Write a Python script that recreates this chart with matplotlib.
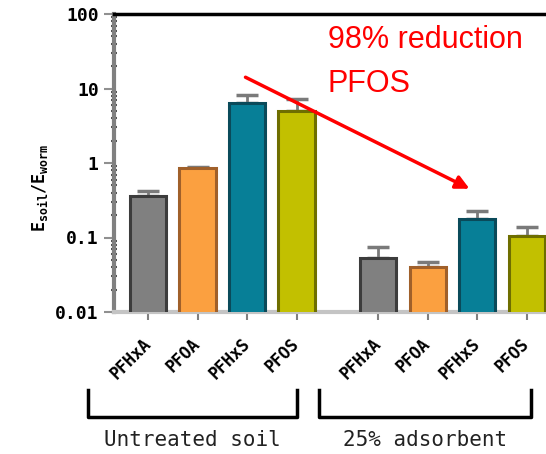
import numpy as np
import matplotlib
matplotlib.use("Agg")
import matplotlib.pyplot as plt
from matplotlib.lines import Line2D

# ── Data ──────────────────────────────────────────────────────────────────────
compounds   = ["PFHxA", "PFOA", "PFHxS", "PFOS"]
untreated   = [0.36, 0.86, 6.4, 5.0]
untreated_e = [0.06, 0.03, 1.8, 2.2]
adsorbent   = [0.053, 0.040, 0.177, 0.105]
adsorbent_e = [0.021, 0.007, 0.050, 0.033]
groups      = ["Untreated soil", "25% adsorbent"]

fills = ["#808080", "#fba040", "#077f97", "#c2c000"]
edges = ["#3c3c3c", "#a0602a", "#0a4a5a", "#6e6e00"]

plt.rcParams["font.family"] = ["DejaVu Sans Mono"]

W, H = 546, 454
fig = plt.figure(figsize=(W / 100, H / 100), dpi=100)
ax = fig.add_axes([114 / W, 1 - 312 / H, 1 - 114 / W, (312 - 14) / H])

x1 = np.arange(4)
x2 = np.arange(4) + 4.65
xs = np.concatenate([x1, x2])
vals = untreated + adsorbent
errs = untreated_e + adsorbent_e

ax.bar(xs, vals, width=0.73, color=fills * 2, edgecolor=edges * 2,
       linewidth=2.2, zorder=3)
ax.errorbar(xs, vals, yerr=[np.zeros(8), errs], fmt="none", ecolor="#7a7a7a",
            elinewidth=2, capsize=8, capthick=2.5, zorder=2)

ax.set_yscale("log")
ax.set_ylim(0.01, 100)
ax.set_xlim(-0.687, 8.04)
ax.set_yticks([0.01, 0.1, 1, 10, 100])
ax.set_yticklabels(["0.01", "0.1", "1", "10", "100"], fontsize=13,
                   fontweight="bold")
ax.tick_params(axis="y", which="major", length=7, width=1.5, color="#909090",
               pad=4)
ax.tick_params(axis="y", which="minor", length=4, width=1.5, color="#505050",
               direction="inout")

ax.set_xticks(xs)
ax.set_xticklabels(compounds * 2, rotation=45, ha="right", va="center",
                   rotation_mode="anchor", fontsize=12, fontweight="bold")
ax.tick_params(axis="x", length=6, width=1.5, color="#808080", pad=15)

ax.spines["right"].set_visible(False)
ax.spines["left"].set_color("#808080")
ax.spines["left"].set_linewidth(3)
ax.spines["bottom"].set_color("#c4c4c4")
ax.spines["bottom"].set_linewidth(3)
ax.spines["top"].set_color("black")
ax.spines["top"].set_linewidth(2.5)

ax.set_ylabel(r"$\mathregular{E_{soil}/E_{worm}}$", fontsize=12,
              fontweight="bold")
ax.yaxis.set_label_coords(-0.148, 0.416)

# brackets and group labels
def bracket(x0, x1_, y0=390, y1=417):
    fx = [x0 / W, x0 / W, x1_ / W, x1_ / W]
    fy = [1 - y0 / H, 1 - y1 / H, 1 - y1 / H, 1 - y0 / H]
    fig.add_artist(Line2D(fx, fy, color="black", lw=2.5,
                          transform=fig.transFigure))

bracket(88, 297)
bracket(319, 531)
fig.text(192 / W, 1 - 440 / H, groups[0], ha="center", va="center",
         fontsize=15, color="#222222")
fig.text(425 / W, 1 - 440 / H, groups[1], ha="center", va="center",
         fontsize=15, color="#222222")

# annotation
red_font = ["Liberation Sans"]
fig.text(328 / W, 1 - 48 / H, "98% reduction", color="red", fontsize=22,
         family=red_font, va="baseline", ha="left", fontstretch="condensed")
fig.text(328 / W, 1 - 92 / H, "PFOS", color="red", fontsize=22,
         family=red_font, va="baseline", ha="left", fontstretch="condensed")
ax.annotate("", xy=(472, H - 190), xycoords="figure pixels",
            xytext=(243, H - 76), textcoords="figure pixels",
            arrowprops=dict(arrowstyle="-|>", color="red", lw=2.5,
                            mutation_scale=20))

fig.savefig("out.png", dpi=100)
